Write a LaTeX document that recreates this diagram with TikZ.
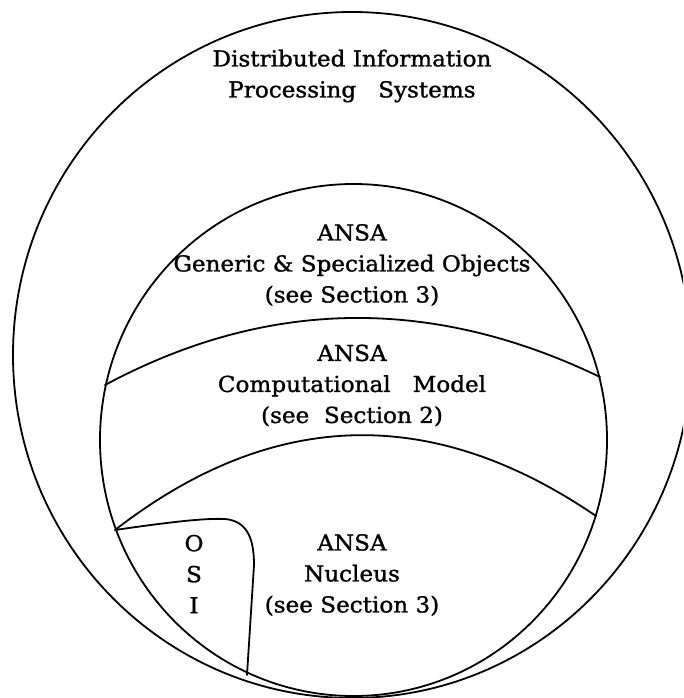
\documentclass[tikz,border=0pt]{standalone}
\usepackage{fontspec}
\setmainfont[FakeStretch=1.05,FakeBold=1.2]{DejaVu Serif}
\begin{document}
\begin{tikzpicture}[x=1pt,y=-1pt,
  outline/.style={line width=1.8pt, line join=round, line cap=round},
  caption/.style={align=center, inner sep=0pt,
    font=\fontsize{22}{31}\selectfont}]
\useasboundingbox (0,0) rectangle (683,698);
\clip (0,0) rectangle (683,698);

% outer sphere and the ANSA sphere inside it
\draw[outline] (352,355) ellipse [x radius=339, y radius=343];
\draw[outline] (353.5,440) ellipse [x radius=253.5, y radius=256];

% band boundaries across the inner sphere
\coordinate (b1l) at (105,385);
\coordinate (b1r) at (600,377);
\coordinate (b2l) at (115,530);
\coordinate (b2r) at (596,516);
\draw[outline] (b1l) .. controls (269,297) and (434,297) .. (b1r);
\draw[outline] (b2l) .. controls (275,406) and (435,406) .. (b2r);

% OSI pocket
\coordinate (osib) at (247,675);
\draw[outline] (b2l) .. controls (170,522) and (205,518) .. (225,519)
  .. controls (248,521) and (254,540) .. (254,565) -- (osib);

% texts
\node[caption] (dips) at (352,76)
  {Distributed Information\\Processing\ \ \ Systems};
\node[caption] (objs) at (352,265)
  {ANSA\\Generic \& Specialized Objects\\(see Section 3)};
\node[caption] (comp) at (352,385.5)
  {ANSA\\Computational\ \ \ Model\\(see\ \ Section 2)};
\node[caption] (nucl) at (352,575)
  {ANSA\\Nucleus\\(see Section 3)};
\node[caption] (osi) at (194,574) {O\\S\\I};
\end{tikzpicture}
\end{document}
